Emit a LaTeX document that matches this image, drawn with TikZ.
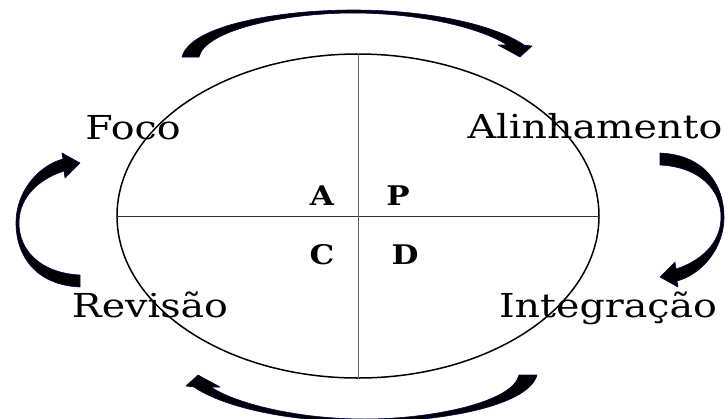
\documentclass[tikz,border=0pt]{standalone}
\usepackage{fontspec}
\setmainfont{DejaVu Serif}
\usetikzlibrary{shapes.geometric}

\tikzset{
  fase/.style={anchor=base,inner sep=0pt,xscale=1.2,font=\fontsize{33}{33}\selectfont},
  letra/.style={anchor=base,inner sep=0pt,xscale=1.15,font=\fontsize{27}{27}\selectfont\bfseries},
  seta/.style={fill=black,draw=blue!35!black,line width=0.6pt,line join=round}
}

\begin{document}
\begin{tikzpicture}[x=1pt,y=-1pt]
\useasboundingbox (0,0) rectangle (728,418);
% circle of the cycle
\node[draw,ellipse,line width=1.5pt,minimum width=482,minimum height=324,inner sep=0pt] (ciclo) at (358,216) {};
\draw[line width=0.9pt,black!80] (ciclo.west) -- (ciclo.east);
\draw[line width=0.9pt,black!60] (ciclo.north) -- (ciclo.south);
% quadrants
\node[letra] (a) at (322,205) {A};
\node[letra] (p) at (398,205) {P};
\node[letra] (c) at (322,264) {C};
\node[letra] (d) at (405,264) {D};
% phases
\node[fase] (foco) at (133,139) {Foco};
\node[fase] (alinh) at (595,138) {Alinhamento};
\node[fase] (revisao) at (150,317) {Revisão};
\node[fase] (integ) at (608,317) {Integração};
% arrows round the circle
\draw[seta] (199,57) .. controls (205,30) and (285,13) .. (353,13)
  .. controls (425,13) and (485,30) .. (507,45) -- (498,45) -- (520,57) -- (532,46) -- (524,45)
  .. controls (495,25) and (430,10) .. (353,10)
  .. controls (280,10) and (190,25) .. (182,57) -- cycle;
\draw[seta] (519,375) .. controls (513,402) and (433,419) .. (365,419)
  .. controls (293,419) and (233,402) .. (211,387) -- (220,387) -- (198,375) -- (186,386) -- (194,387)
  .. controls (223,407) and (288,422) .. (365,422)
  .. controls (438,422) and (528,407) .. (537,375) -- cycle;
\draw[seta] (660,153) .. controls (705,155) and (724,185) .. (724,217)
  .. controls (724,250) and (700,275) .. (677,281) -- (678,287) -- (660,277) -- (675,262) -- (676,269)
  .. controls (698,262) and (721,245) .. (721,217)
  .. controls (721,190) and (700,167) .. (660,165) -- cycle;
\draw[seta] (80,287) .. controls (35,285) and (16,255) .. (16,223)
  .. controls (16,190) and (40,165) .. (63,159) -- (62,153) -- (80,163) -- (65,178) -- (64,171)
  .. controls (42,178) and (19,195) .. (19,223)
  .. controls (19,250) and (40,273) .. (80,275) -- cycle;
\end{tikzpicture}
\end{document}
